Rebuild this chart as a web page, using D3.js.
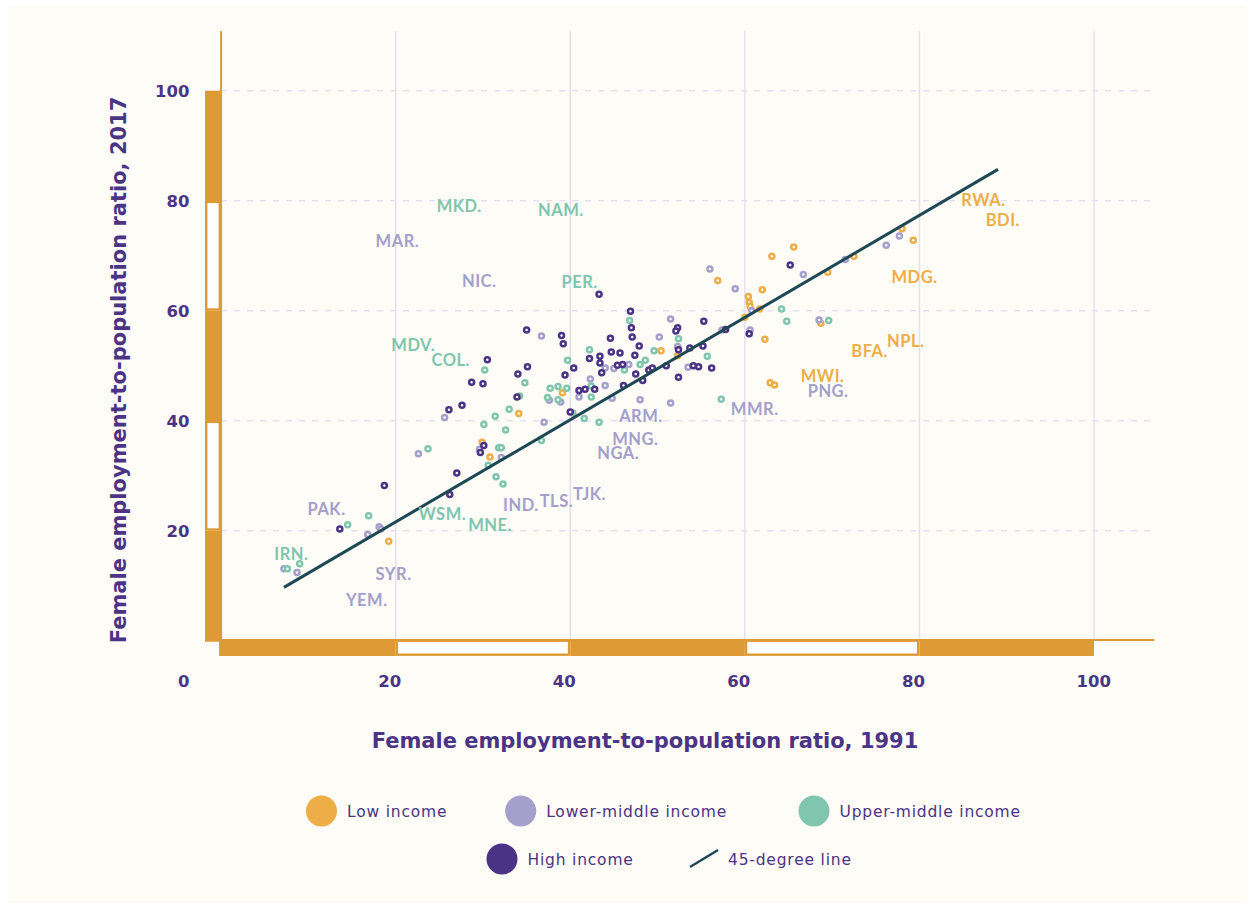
<!DOCTYPE html>
<html>
<head>
<meta charset="utf-8">
<script src="https://cdn.jsdelivr.net/npm/d3@7"></script>
<style>
body{margin:0;background:#fff;}
svg text{font-family:Lato,"Open Sans",sans-serif;}
svg text.wide{font-family:"DejaVu Sans",Verdana,sans-serif;}
</style>
</head>
<body>
<script>
var lowIncome=[[65.6,71.6],[63.1,69.9],[72.5,69.9],[69.5,67.0],[56.9,65.5],[62.0,63.8],[60.4,62.6],[60.5,61.5],[60.6,60.8],[61.7,60.3],[60.0,58.8],[68.7,57.7],[62.3,54.8],[50.4,52.7],[52.3,51.8],[62.9,46.9],[63.4,46.5],[39.1,45.1],[34.1,41.3],[29.9,36.1],[30.8,33.4],[19.2,18.1],[78.0,74.9],[79.3,72.8]]
var lowerMiddle=[[36.7,55.4],[42.3,47.6],[37.6,43.7],[38.9,43.4],[41.0,44.3],[25.6,40.6],[37.0,39.7],[29.6,34.8],[32.1,33.3],[22.6,34.0],[76.2,71.9],[71.5,69.3],[66.7,66.6],[56.0,67.6],[58.9,64.0],[60.8,60.0],[68.5,58.3],[51.5,58.5],[57.4,56.5],[60.6,56.5],[50.2,55.2],[52.3,53.5],[44.0,49.6],[45.0,49.5],[46.7,50.2],[53.5,49.7],[44.8,44.1],[48.0,43.8],[51.5,43.2],[77.7,73.6],[16.8,19.3],[18.1,20.7],[18.3,20.3],[7.2,13.1],[8.7,12.4],[44.0,46.4]]
var upperMiddle=[[42.2,52.9],[30.2,49.2],[39.7,51.0],[34.8,46.9],[42.4,46.3],[37.7,45.9],[38.6,46.2],[39.6,45.9],[34.2,44.5],[37.4,44.2],[38.6,43.8],[42.4,44.3],[33.0,42.1],[40.3,41.4],[41.6,40.4],[43.3,39.7],[30.1,39.3],[31.4,40.8],[32.6,38.3],[36.7,36.4],[31.8,35.1],[32.1,35.1],[30.6,31.9],[23.7,34.9],[31.5,29.8],[32.3,28.5],[16.9,22.7],[14.5,21.1],[7.6,13.1],[9.0,14.0],[64.2,60.3],[64.8,58.1],[69.6,58.2],[46.8,58.2],[52.4,54.9],[49.6,52.7],[55.7,51.7],[46.2,49.2],[48.0,50.2],[48.6,51.0],[57.3,43.9]]
var highIncome=[[35.0,56.5],[39.0,55.5],[39.2,54.0],[30.5,51.1],[35.1,49.8],[34.0,48.5],[40.4,49.6],[39.4,48.3],[42.2,51.3],[43.4,51.7],[28.7,47.0],[30.0,46.7],[41.0,45.5],[41.7,45.7],[42.8,45.7],[33.9,44.3],[27.6,42.8],[26.1,42.0],[40.0,41.6],[30.1,35.5],[29.7,34.2],[27.0,30.5],[18.7,28.2],[26.2,26.6],[65.2,68.3],[43.3,63.0],[46.9,59.9],[55.3,58.1],[47.0,56.9],[52.3,56.9],[52.1,56.3],[57.8,56.6],[60.5,55.8],[47.1,55.2],[44.6,55.0],[47.9,53.6],[44.7,52.5],[45.7,52.3],[47.4,51.9],[52.4,52.9],[53.7,53.2],[55.2,53.6],[43.4,50.5],[45.4,50.1],[46.0,50.2],[49.0,49.2],[49.4,49.6],[51.0,50.0],[54.1,50.0],[54.7,49.8],[56.2,49.6],[43.6,48.7],[47.5,48.5],[46.1,46.4],[48.3,47.3],[52.4,47.9],[13.6,20.3]]

// country labels: name, x, y, income group
var countryLabels=[["MKD.",24.7,78.0,2],["NAM.",36.3,77.2,2],["MAR.",17.7,71.6,1],["NIC.",27.6,64.3,1],["PER.",39.0,64.1,2],["RWA.",84.8,79.1,0],["BDI.",87.6,75.4,0],["MDG.",76.8,65.0,0],["NPL.",76.3,53.4,0],["BFA.",72.2,51.5,0],["MWI.",66.4,47.1,0],["PNG.",67.2,44.4,1],["MMR.",58.4,41.0,1],["ARM.",45.6,39.8,1],["MNG.",44.8,35.6,1],["NGA.",43.1,33.0,1],["TJK.",40.3,25.5,1],["TLS.",36.5,24.4,1],["IND.",32.3,23.5,1],["WSM.",22.6,22.0,2],["MNE.",28.3,20.0,2],["MDV.",19.5,52.6,2],["COL.",24.1,50.0,2],["PAK.",9.9,22.9,1],["IRN.",6.1,14.7,2],["SYR.",17.7,11.0,1],["YEM.",14.3,6.4,1]]

var lineX=[7.2,89.0]
var lineY=[9.7,85.7]
var xTicks=[0,20,40,60,80,100]
var yTicks=[20,40,60,80,100]
var groupNames=["Low income","Lower-middle income","Upper-middle income","High income"]
var groupColors=["#edae48","#a49fcb","#80c6ae","#4a3384"]

var axisColor="#dd9a35"
var textColor="#4b3485"
var lineColor="#1e4856"

var drawChart=function(){
  var svg=d3.select("body").append("svg")
    .attr("width",1254)
    .attr("height",909)

  svg.append("rect").attr("x",8).attr("y",6).attr("width",1238).attr("height",897).style("fill","#fdfcf7")

  var xScale=d3.scaleLinear().domain([0,100]).range([221.1,1094])
  var yScale=d3.scaleLinear().domain([0,100]).range([640.7,90.7])

  // grid
  svg.selectAll(".vgrid").data(xTicks.slice(1)).enter().append("line")
    .attr("x1",function(d){return xScale(d)}).attr("x2",function(d){return xScale(d)})
    .attr("y1",yScale(110.8)).attr("y2",yScale(0))
    .style("stroke","#e3e1ef").style("stroke-width",1.5)
  svg.selectAll(".hgrid").data(yTicks).enter().append("line")
    .attr("x1",xScale(0)).attr("x2",xScale(106.9))
    .attr("y1",function(d){return yScale(d)}).attr("y2",function(d){return yScale(d)})
    .style("stroke","#e3e1ef").style("stroke-width",1.5).style("stroke-dasharray","6,7")

  // axis bars
  var segs=d3.pairs(xTicks)
  svg.selectAll(".ybar").data(segs).enter().append("rect")
    .attr("x",function(d,i){return i%2==0?205:206.2})
    .attr("y",function(d,i){return i%2==0?yScale(d[1]):yScale(d[1])+1.2})
    .attr("width",function(d,i){return i%2==0?16:13.6})
    .attr("height",function(d,i){return i%2==0?yScale(d[0])-yScale(d[1])+1:yScale(d[0])-yScale(d[1])-2.4})
    .style("fill",function(d,i){return i%2==0?axisColor:"#fff"})
    .style("stroke",function(d,i){return i%2==0?"none":axisColor})
    .style("stroke-width",2.4)
  svg.selectAll(".xbar").data(segs).enter().append("rect")
    .attr("x",function(d,i){return i%2==0?xScale(d[0])-(i==0?2:0):xScale(d[0])+1.2})
    .attr("y",function(d,i){return i%2==0?639.5:640.7})
    .attr("width",function(d,i){return i%2==0?xScale(d[1])-xScale(d[0])+(i==0?2:0):xScale(d[1])-xScale(d[0])-2.4})
    .attr("height",function(d,i){return i%2==0?16.5:14})
    .style("fill",function(d,i){return i%2==0?axisColor:"#fff"})
    .style("stroke",function(d,i){return i%2==0?"none":axisColor})
    .style("stroke-width",2.4)

  svg.append("line").attr("x1",xScale(0)).attr("x2",xScale(0)).attr("y1",yScale(110.8)).attr("y2",yScale(0))
    .style("stroke",axisColor).style("stroke-width",2)
  svg.append("line").attr("x1",xScale(0)).attr("x2",xScale(106.9)).attr("y1",yScale(0)-0.8).attr("y2",yScale(0)-0.8)
    .style("stroke",axisColor).style("stroke-width",2)

  // tick labels
  svg.selectAll(".ytick").data(yTicks).enter().append("text").attr("class","wide")
    .attr("x",189.5).attr("y",function(d){return yScale(d)})
    .attr("dy","0.36em").attr("text-anchor","end")
    .style("font-size","16.5px").style("font-weight","bold").style("fill",textColor)
    .text(function(d){return d})
  svg.selectAll(".xtick").data(xTicks).enter().append("text").attr("class","wide")
    .attr("x",function(d){return d==0?189.5:xScale(d)-17.5})
    .attr("y",681.5).attr("dy","0.36em")
    .attr("text-anchor",function(d){return d==0?"end":"start"})
    .style("font-size","16.5px").style("font-weight","bold").style("fill",textColor)
    .text(function(d){return d})

  // axis titles
  svg.append("text").attr("class","wide").attr("x",645).attr("y",740).attr("dy","0.36em").attr("text-anchor","middle")
    .style("font-size","21px").style("font-weight","bold").style("fill",textColor)
    .text("Female employment-to-population ratio, 1991")
  svg.append("text").attr("class","wide").attr("transform","translate(118,370) rotate(-90)").attr("dy","0.36em").attr("text-anchor","middle")
    .style("font-size","21px").style("font-weight","bold").style("fill",textColor)
    .text("Female employment-to-population ratio, 2017")

  // points
  var groups=[lowIncome,lowerMiddle,upperMiddle,highIncome]
  groups.forEach(function(pts,gi){
    svg.append("g").selectAll("circle").data(pts).enter().append("circle")
      .attr("cx",function(d){return xScale(d[0])})
      .attr("cy",function(d){return yScale(d[1])})
      .attr("r",2.5)
      .style("fill","#fdfcf7")
      .style("stroke",groupColors[gi])
      .style("stroke-width",2.5)
  })

  // line
  svg.append("line")
    .attr("x1",xScale(lineX[0])).attr("y1",yScale(lineY[0]))
    .attr("x2",xScale(lineX[1])).attr("y2",yScale(lineY[1]))
    .style("stroke",lineColor).style("stroke-width",3)

  // country labels
  svg.selectAll(".clabel").data(countryLabels).enter().append("text")
    .attr("x",function(d){return xScale(d[1])})
    .attr("y",function(d){return yScale(d[2])})
    .style("font-size","16.5px").style("font-weight","bold").style("letter-spacing","0.5px")
    .style("fill",function(d){return groupColors[d[3]]})
    .text(function(d){return d[0]})

  // legend
  var legendPos=[[321.5,811],[520.7,811],[814,811],[502,859]]
  groupNames.forEach(function(n,i){
    svg.append("circle").attr("cx",legendPos[i][0]).attr("cy",legendPos[i][1]).attr("r",15.5)
      .style("fill",groupColors[i])
    svg.append("text").attr("class","wide").attr("x",legendPos[i][0]+25.5).attr("y",legendPos[i][1]).attr("dy","0.36em")
      .style("font-size","15.5px").style("letter-spacing","0.8px").style("fill",textColor).text(n)
  })
  svg.append("line").attr("x1",690).attr("y1",867).attr("x2",718).attr("y2",850)
    .style("stroke",lineColor).style("stroke-width",2.5)
  svg.append("text").attr("class","wide").attr("x",728).attr("y",859).attr("dy","0.36em")
    .style("font-size","15.5px").style("letter-spacing","0.8px").style("fill",textColor).text("45-degree line")
}

drawChart()
</script>
</body>
</html>
